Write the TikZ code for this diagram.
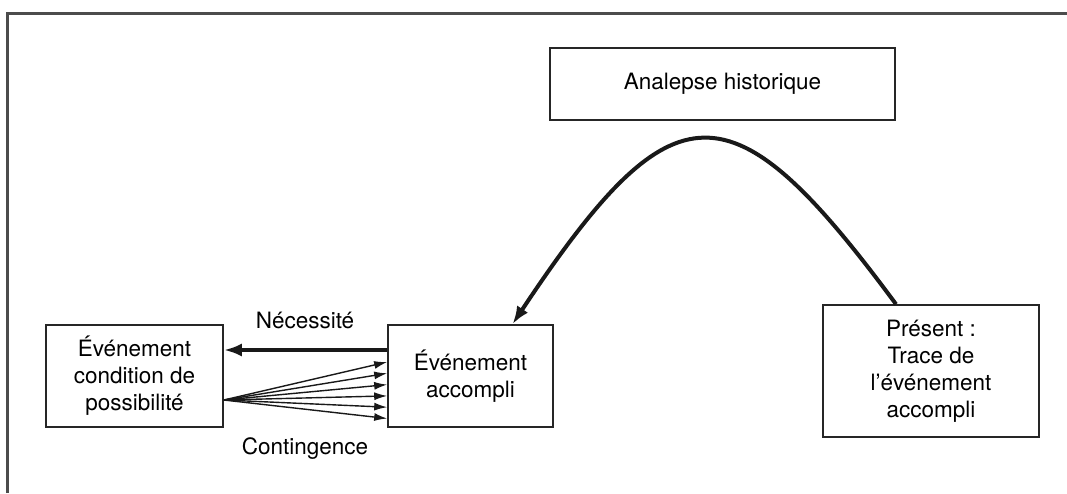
\documentclass[tikz,border=0pt]{standalone}
\usepackage{fontspec}
\setmainfont{TeX Gyre Heros}
\usetikzlibrary{positioning,arrows.meta}

\begin{document}
\begin{tikzpicture}[x=1pt, y=-1pt,
  lbl/.style={font=\fontsize{22.5}{27}\selectfont, inner sep=1pt},
  box/.style={draw=black!85, line width=1.6pt, align=center, inner sep=0pt, font=\fontsize{22.5}{27}\selectfont},
  frameline/.style={draw=black!70, line width=3pt},
  thickedge/.style={draw=black!90, line width=4pt, -{Latex[length=18pt,width=13pt]}},
  thinedge/.style={draw=black!90, line width=1.4pt, -{Latex[length=13pt,width=8pt]}}
]
\useasboundingbox (0,0) rectangle (1067,493);
\draw[frameline] (7,493) -- (7,13) -- (1067,13);

\node[box, minimum width=345pt, minimum height=72pt] (anal) at (722.5,84) {Analepse historique};
\node[box, minimum width=177pt, minimum height=102pt] (cond) at (134.5,376) {Événement\\condition de\\possibilité};
\node[box, minimum width=165pt, minimum height=102pt] (acc) at (470.5,376) {Événement\\accompli};
\node[box, minimum width=216pt, minimum height=132pt] (pres) at (931,371) {Présent :\\Trace de\\l’événement\\accompli};

\node[lbl] (necess) at (305,320) {Nécessité};
\node[lbl] (conting) at (305,449) {Contingence};

% nécessité
\draw[thickedge] ([yshift=26pt]acc.west) -- ([yshift=26pt]cond.east);
% contingence
\foreach \k in {0,...,5}
  \draw[thinedge] ([yshift=-24pt]cond.east) -- ([yshift={14pt-11.3pt*\k}]acc.west);
% analepse
\draw[thickedge] ([xshift=-35pt]pres.north) .. controls (731,81) and (674,81) .. ([xshift=42pt]acc.north);

\end{tikzpicture}
\end{document}
